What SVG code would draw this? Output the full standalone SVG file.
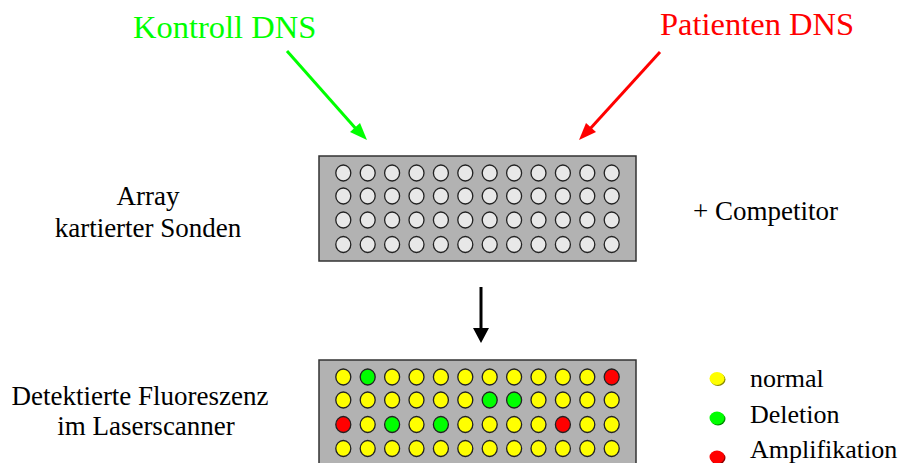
<svg xmlns="http://www.w3.org/2000/svg" width="905" height="463" viewBox="0 0 905 463">
<defs>
<style>
text{font-family:"Liberation Serif","Times New Roman",serif;fill:#000}
.lbl{font-size:27px}
.leg{font-size:26px}
.ttl{font-size:32.5px}
.panel{fill:#b2b2b2;stroke:#333;stroke-width:1.5}
.spot{stroke:#222;stroke-width:1.3}
.g{fill:#e8e8e8}
.Y{fill:#ffff00}
.G{fill:#00ff00}
.R{fill:#ff0000}
</style>
</defs>
<g id="title-kontroll"><text class="ttl" x="133" y="38" style="fill:#00ff00">Kontroll DNS</text></g>
<g id="title-patient"><text class="ttl" x="660" y="35" style="fill:#ff0000">Patienten DNS</text></g>
<g id="label-array"><text class="lbl" x="148" y="205" text-anchor="middle">Array</text><text class="lbl" x="148" y="237" text-anchor="middle">kartierter Sonden</text></g>
<g id="label-competitor"><text class="lbl" x="693" y="220">+ Competitor</text></g>
<g id="label-fluor"><text class="lbl" x="140" y="405" text-anchor="middle">Detektierte Fluoreszenz</text><text class="lbl" x="146" y="435" text-anchor="middle">im Laserscanner</text></g>
<g id="connectors">
<line x1="287" y1="51" x2="357" y2="130" stroke="#00ff00" stroke-width="3"/>
<polygon points="367,140 350,132 360,123" fill="#00ff00"/>
<line x1="660" y1="52" x2="589" y2="130" stroke="#ff0000" stroke-width="3"/>
<polygon points="579,140 586,123 596,132" fill="#ff0000"/>
<line x1="481" y1="287" x2="481" y2="330" stroke="#000" stroke-width="3"/>
<polygon points="473,328 489,328 481,343" fill="#000"/>
</g>
<g id="array-top">
<rect class="panel" x="319" y="156" width="317" height="105"/>
<g class="spot g">
<g transform="translate(343.3,0)"><ellipse cx="0" cy="173" rx="7.5" ry="8"/><ellipse cx="0" cy="196" rx="7.5" ry="8"/><ellipse cx="0" cy="220" rx="7.5" ry="8"/><ellipse cx="0" cy="244.5" rx="7.5" ry="8"/></g>
<g transform="translate(367.7,0)"><ellipse cx="0" cy="173" rx="7.5" ry="8"/><ellipse cx="0" cy="196" rx="7.5" ry="8"/><ellipse cx="0" cy="220" rx="7.5" ry="8"/><ellipse cx="0" cy="244.5" rx="7.5" ry="8"/></g>
<g transform="translate(392.1,0)"><ellipse cx="0" cy="173" rx="7.5" ry="8"/><ellipse cx="0" cy="196" rx="7.5" ry="8"/><ellipse cx="0" cy="220" rx="7.5" ry="8"/><ellipse cx="0" cy="244.5" rx="7.5" ry="8"/></g>
<g transform="translate(416.5,0)"><ellipse cx="0" cy="173" rx="7.5" ry="8"/><ellipse cx="0" cy="196" rx="7.5" ry="8"/><ellipse cx="0" cy="220" rx="7.5" ry="8"/><ellipse cx="0" cy="244.5" rx="7.5" ry="8"/></g>
<g transform="translate(440.9,0)"><ellipse cx="0" cy="173" rx="7.5" ry="8"/><ellipse cx="0" cy="196" rx="7.5" ry="8"/><ellipse cx="0" cy="220" rx="7.5" ry="8"/><ellipse cx="0" cy="244.5" rx="7.5" ry="8"/></g>
<g transform="translate(465.3,0)"><ellipse cx="0" cy="173" rx="7.5" ry="8"/><ellipse cx="0" cy="196" rx="7.5" ry="8"/><ellipse cx="0" cy="220" rx="7.5" ry="8"/><ellipse cx="0" cy="244.5" rx="7.5" ry="8"/></g>
<g transform="translate(489.7,0)"><ellipse cx="0" cy="173" rx="7.5" ry="8"/><ellipse cx="0" cy="196" rx="7.5" ry="8"/><ellipse cx="0" cy="220" rx="7.5" ry="8"/><ellipse cx="0" cy="244.5" rx="7.5" ry="8"/></g>
<g transform="translate(514.1,0)"><ellipse cx="0" cy="173" rx="7.5" ry="8"/><ellipse cx="0" cy="196" rx="7.5" ry="8"/><ellipse cx="0" cy="220" rx="7.5" ry="8"/><ellipse cx="0" cy="244.5" rx="7.5" ry="8"/></g>
<g transform="translate(538.5,0)"><ellipse cx="0" cy="173" rx="7.5" ry="8"/><ellipse cx="0" cy="196" rx="7.5" ry="8"/><ellipse cx="0" cy="220" rx="7.5" ry="8"/><ellipse cx="0" cy="244.5" rx="7.5" ry="8"/></g>
<g transform="translate(562.9,0)"><ellipse cx="0" cy="173" rx="7.5" ry="8"/><ellipse cx="0" cy="196" rx="7.5" ry="8"/><ellipse cx="0" cy="220" rx="7.5" ry="8"/><ellipse cx="0" cy="244.5" rx="7.5" ry="8"/></g>
<g transform="translate(587.3,0)"><ellipse cx="0" cy="173" rx="7.5" ry="8"/><ellipse cx="0" cy="196" rx="7.5" ry="8"/><ellipse cx="0" cy="220" rx="7.5" ry="8"/><ellipse cx="0" cy="244.5" rx="7.5" ry="8"/></g>
<g transform="translate(611.7,0)"><ellipse cx="0" cy="173" rx="7.5" ry="8"/><ellipse cx="0" cy="196" rx="7.5" ry="8"/><ellipse cx="0" cy="220" rx="7.5" ry="8"/><ellipse cx="0" cy="244.5" rx="7.5" ry="8"/></g>
</g>
</g>
<g id="array-bottom">
<rect class="panel" x="319" y="360" width="317" height="110"/>
<g class="spot">
<ellipse class="Y" cx="343.3" cy="377" rx="7.5" ry="8"/><ellipse class="G" cx="367.7" cy="377" rx="7.5" ry="8"/><ellipse class="Y" cx="392.1" cy="377" rx="7.5" ry="8"/><ellipse class="Y" cx="416.5" cy="377" rx="7.5" ry="8"/><ellipse class="Y" cx="440.9" cy="377" rx="7.5" ry="8"/><ellipse class="Y" cx="465.3" cy="377" rx="7.5" ry="8"/><ellipse class="Y" cx="489.7" cy="377" rx="7.5" ry="8"/><ellipse class="Y" cx="514.1" cy="377" rx="7.5" ry="8"/><ellipse class="Y" cx="538.5" cy="377" rx="7.5" ry="8"/><ellipse class="Y" cx="562.9" cy="377" rx="7.5" ry="8"/><ellipse class="Y" cx="587.3" cy="377" rx="7.5" ry="8"/><ellipse class="R" cx="611.7" cy="377" rx="7.5" ry="8"/>
<ellipse class="Y" cx="343.3" cy="400" rx="7.5" ry="8"/><ellipse class="Y" cx="367.7" cy="400" rx="7.5" ry="8"/><ellipse class="Y" cx="392.1" cy="400" rx="7.5" ry="8"/><ellipse class="Y" cx="416.5" cy="400" rx="7.5" ry="8"/><ellipse class="Y" cx="440.9" cy="400" rx="7.5" ry="8"/><ellipse class="Y" cx="465.3" cy="400" rx="7.5" ry="8"/><ellipse class="G" cx="489.7" cy="400" rx="7.5" ry="8"/><ellipse class="G" cx="514.1" cy="400" rx="7.5" ry="8"/><ellipse class="Y" cx="538.5" cy="400" rx="7.5" ry="8"/><ellipse class="Y" cx="562.9" cy="400" rx="7.5" ry="8"/><ellipse class="Y" cx="587.3" cy="400" rx="7.5" ry="8"/><ellipse class="Y" cx="611.7" cy="400" rx="7.5" ry="8"/>
<ellipse class="R" cx="343.3" cy="424.5" rx="7.5" ry="8"/><ellipse class="Y" cx="367.7" cy="424.5" rx="7.5" ry="8"/><ellipse class="G" cx="392.1" cy="424.5" rx="7.5" ry="8"/><ellipse class="Y" cx="416.5" cy="424.5" rx="7.5" ry="8"/><ellipse class="G" cx="440.9" cy="424.5" rx="7.5" ry="8"/><ellipse class="Y" cx="465.3" cy="424.5" rx="7.5" ry="8"/><ellipse class="Y" cx="489.7" cy="424.5" rx="7.5" ry="8"/><ellipse class="Y" cx="514.1" cy="424.5" rx="7.5" ry="8"/><ellipse class="Y" cx="538.5" cy="424.5" rx="7.5" ry="8"/><ellipse class="R" cx="562.9" cy="424.5" rx="7.5" ry="8"/><ellipse class="Y" cx="587.3" cy="424.5" rx="7.5" ry="8"/><ellipse class="Y" cx="611.7" cy="424.5" rx="7.5" ry="8"/>
<ellipse class="Y" cx="343.3" cy="448.5" rx="7.5" ry="8"/><ellipse class="Y" cx="367.7" cy="448.5" rx="7.5" ry="8"/><ellipse class="Y" cx="392.1" cy="448.5" rx="7.5" ry="8"/><ellipse class="Y" cx="416.5" cy="448.5" rx="7.5" ry="8"/><ellipse class="Y" cx="440.9" cy="448.5" rx="7.5" ry="8"/><ellipse class="Y" cx="465.3" cy="448.5" rx="7.5" ry="8"/><ellipse class="Y" cx="489.7" cy="448.5" rx="7.5" ry="8"/><ellipse class="Y" cx="514.1" cy="448.5" rx="7.5" ry="8"/><ellipse class="Y" cx="538.5" cy="448.5" rx="7.5" ry="8"/><ellipse class="Y" cx="562.9" cy="448.5" rx="7.5" ry="8"/><ellipse class="Y" cx="587.3" cy="448.5" rx="7.5" ry="8"/><ellipse class="Y" cx="611.7" cy="448.5" rx="7.5" ry="8"/>
</g>
</g>
<g id="legend">
<ellipse cx="718" cy="379.5" rx="7.5" ry="6.5" fill="#8a8a00"/><ellipse class="Y" cx="717" cy="378.5" rx="7.5" ry="6.5"/>
<ellipse cx="718" cy="419" rx="7.5" ry="6.5" fill="#008a00"/><ellipse class="G" cx="717" cy="418" rx="7.5" ry="6.5"/>
<ellipse cx="718" cy="458" rx="7.5" ry="6.5" fill="#8a0000"/><ellipse class="R" cx="717" cy="457" rx="7.5" ry="6.5"/>
<text class="leg" x="750" y="387">normal</text>
<text class="leg" x="750" y="423">Deletion</text>
<text class="leg" x="750" y="458">Amplifikation</text>
</g>
</svg>
